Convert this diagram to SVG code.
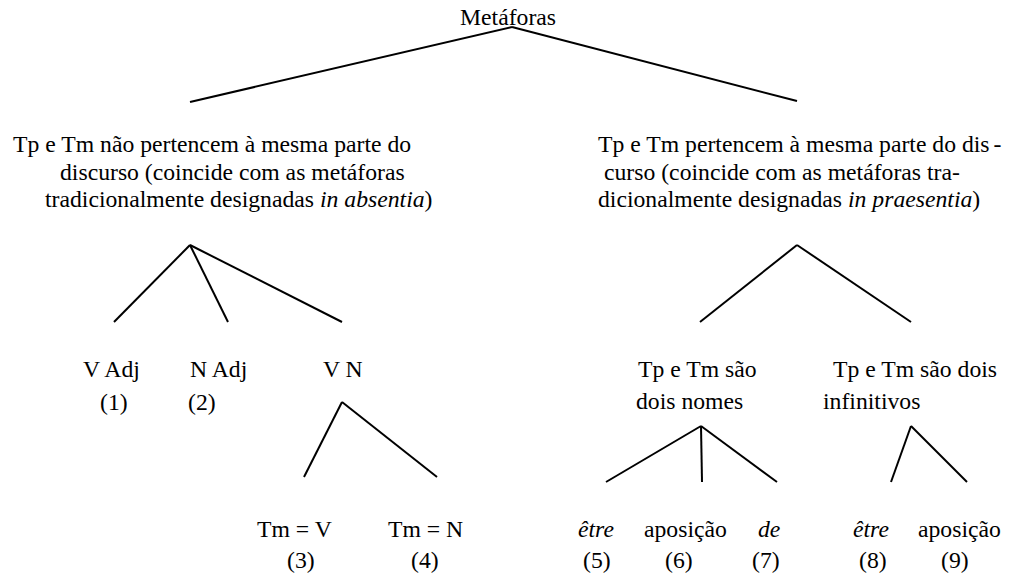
<svg xmlns="http://www.w3.org/2000/svg" width="1009" height="575" viewBox="0 0 1009 575">
<style>
text { font-family: "Liberation Serif", "Times New Roman", serif; font-size: 23.7px; fill: #000; }
.it { font-style: italic; }
.conn line { stroke: #000; stroke-width: 2; stroke-linecap: butt; }
</style>
<rect width="1009" height="575" fill="#fff"/>
<g id="connectors" class="conn">
<line x1="512" y1="27" x2="190" y2="102"/>
<line x1="512" y1="27" x2="797" y2="101"/>
<line x1="190" y1="245" x2="114" y2="322"/>
<line x1="190" y1="245" x2="228" y2="322"/>
<line x1="190" y1="245" x2="342" y2="322"/>
<line x1="342" y1="402" x2="304" y2="477"/>
<line x1="342" y1="402" x2="437" y2="477"/>
<line x1="797" y1="245" x2="700" y2="322"/>
<line x1="797" y1="245" x2="911" y2="322"/>
<line x1="701" y1="426" x2="606" y2="482"/>
<line x1="701" y1="426" x2="702" y2="482"/>
<line x1="701" y1="426" x2="777" y2="482"/>
<line x1="911" y1="426" x2="891" y2="482"/>
<line x1="911" y1="426" x2="967" y2="482"/>
</g>
<g id="root"><text x="460" y="25">Metáforas</text></g>
<g id="absentia">
<text x="13" y="152">Tp e Tm não pertencem à mesma parte do</text>
<text x="60" y="180">discurso (coincide com as metáforas</text>
<text x="45" y="207">tradicionalmente designadas <tspan class="it">in absentia</tspan>)</text>
</g>
<g id="praesentia">
<text x="598" y="152">Tp e Tm pertencem à mesma parte do dis<tspan dx="4">-</tspan></text>
<text x="604" y="180">curso (coincide com as metáforas tra-</text>
<text x="598" y="207">dicionalmente designadas <tspan class="it">in praesentia</tspan>)</text>
</g>
<g id="vadj"><text x="83" y="377">V Adj</text><text x="100" y="410">(1)</text></g>
<g id="nadj"><text x="190" y="377">N Adj</text><text x="188" y="410">(2)</text></g>
<g id="vn"><text x="323" y="377">V N</text></g>
<g id="tmv"><text x="257" y="537">Tm = V</text><text x="287" y="568">(3)</text></g>
<g id="tmn"><text x="388" y="537">Tm = N</text><text x="411" y="568">(4)</text></g>
<g id="nomes"><text x="638" y="377">Tp e Tm são</text><text x="636" y="409">dois nomes</text></g>
<g id="infinitivos"><text x="833" y="377">Tp e Tm são dois</text><text x="823" y="409">infinitivos</text></g>
<g id="etre5"><text class="it" x="578" y="537">être</text><text x="583" y="568">(5)</text></g>
<g id="apos6"><text x="644" y="537">aposição</text><text x="665" y="568">(6)</text></g>
<g id="de7"><text class="it" x="758" y="537">de</text><text x="752" y="568">(7)</text></g>
<g id="etre8"><text class="it" x="853" y="537">être</text><text x="859" y="568">(8)</text></g>
<g id="apos9"><text x="918" y="537">aposição</text><text x="941" y="568">(9)</text></g>
</svg>
